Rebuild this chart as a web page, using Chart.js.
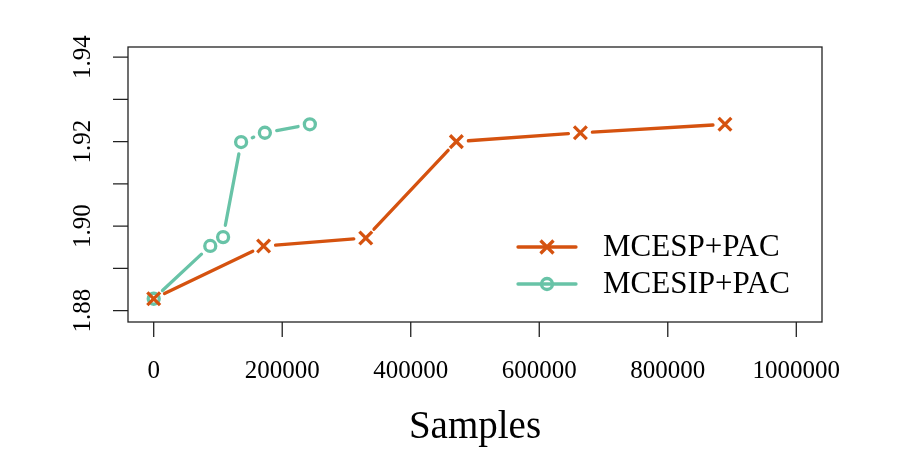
<!DOCTYPE html>
<html>
<head>
<meta charset="utf-8">
<script src="https://cdn.jsdelivr.net/npm/chart.js@4.4.0/dist/chart.umd.min.js"></script>
<style>
  html, body { margin: 0; padding: 0; background: #fff; }
  #wrap { width: 900px; height: 450px; }
</style>
</head>
<body>
<div id="wrap"><canvas id="grafico" width="900" height="450"></canvas></div>
<script>
// data
let seriesNames = ["MCESP+PAC", "MCESIP+PAC"];
let mcespX = [0, 171000, 330000, 471000, 664000, 889000];
let mcespY = [1.8828, 1.8953, 1.8972, 1.9200, 1.9221, 1.9241];
let mcesipX = [0, 88000, 108000, 136000, 173000, 243000];
let mcesipY = [1.8828, 1.8953, 1.8974, 1.9199, 1.9221, 1.9241];

let xTicks = [0, 200000, 400000, 600000, 800000, 1000000];
let yTicks = [1.88, 1.89, 1.90, 1.91, 1.92, 1.93, 1.94];
let yLabels = ["1.88", "1.90", "1.92", "1.94"];
let xTitle = "Samples";

let colOrange = "#d5520f";
let colTeal = "#68c3a7";
let serif = "'Liberation Serif', 'DejaVu Serif', serif";
let lw = 3.3;

function toPoints(xs, ys) {
    return xs.map((x, i) => ({ x: x, y: ys[i] }));
}

// R style "b": lines that stop short of each point
const gapLines = {
    id: "gapLines",
    beforeDatasetsDraw(chart) {
        let ctx = chart.ctx;
        let gap = 12;
        chart.data.datasets.forEach((ds, i) => {
            let pts = chart.getDatasetMeta(i).data;
            ctx.save();
            ctx.strokeStyle = ds.borderColor;
            ctx.lineWidth = lw;
            ctx.lineCap = "round";
            for (let k = 0; k < pts.length - 1; k++) {
                let a = pts[k], b = pts[k + 1];
                let dx = b.x - a.x, dy = b.y - a.y;
                let len = Math.sqrt(dx * dx + dy * dy);
                if (len <= 2 * gap) continue;
                let ux = dx / len, uy = dy / len;
                ctx.beginPath();
                ctx.moveTo(a.x + ux * gap, a.y + uy * gap);
                ctx.lineTo(b.x - ux * gap, b.y - uy * gap);
                ctx.stroke();
            }
            ctx.restore();
        });
    }
};

function drawMarker(ctx, style, color, x, y) {
    ctx.save();
    ctx.strokeStyle = color;
    ctx.lineWidth = lw;
    ctx.beginPath();
    if (style === "circle") {
        ctx.arc(x, y, 5.5, 0, Math.PI * 2);
    } else {
        let r = 6.5;
        ctx.moveTo(x - r, y - r); ctx.lineTo(x + r, y + r);
        ctx.moveTo(x - r, y + r); ctx.lineTo(x + r, y - r);
    }
    ctx.stroke();
    ctx.restore();
}

// R base graphics frame, axes and legend
const rAxes = {
    id: "rAxes",
    afterDraw(chart) {
        let ctx = chart.ctx;
        let a = chart.chartArea;
        let xs = chart.scales.x, ys = chart.scales.y;
        ctx.save();
        ctx.strokeStyle = "#222";
        ctx.lineWidth = 1.3;
        ctx.strokeRect(a.left, a.top, a.right - a.left, a.bottom - a.top);

        // y axis
        ctx.beginPath();
        yTicks.forEach(v => {
            let py = ys.getPixelForValue(v);
            ctx.moveTo(a.left - 15, py);
            ctx.lineTo(a.left, py);
        });
        ctx.stroke();
        ctx.fillStyle = "#000";
        ctx.font = "25px " + serif;
        ctx.textAlign = "center";
        ctx.textBaseline = "middle";
        yLabels.forEach(t => {
            let py = ys.getPixelForValue(parseFloat(t));
            ctx.save();
            ctx.translate(a.left - 45, py);
            ctx.rotate(-Math.PI / 2);
            ctx.fillText(t, 0, 0);
            ctx.restore();
        });

        // x axis
        ctx.beginPath();
        xTicks.forEach(v => {
            let px = xs.getPixelForValue(v);
            ctx.moveTo(px, a.bottom);
            ctx.lineTo(px, a.bottom + 15);
        });
        ctx.stroke();
        xTicks.forEach(v => {
            ctx.fillText(String(v), xs.getPixelForValue(v), a.bottom + 49);
        });
        ctx.font = "39px " + serif;
        ctx.fillText(xTitle, (xs.getPixelForValue(0) + xs.getPixelForValue(1000000)) / 2, 428);

        // legend
        ctx.font = "31px " + serif;
        ctx.textAlign = "left";
        chart.data.datasets.forEach((ds, i) => {
            let ly = 247 + i * 37;
            ctx.save();
            ctx.strokeStyle = ds.borderColor;
            ctx.lineWidth = lw;
            ctx.lineCap = "round";
            ctx.beginPath();
            ctx.moveTo(518, ly);
            ctx.lineTo(576, ly);
            ctx.stroke();
            ctx.restore();
            drawMarker(ctx, ds.pointStyle, ds.borderColor, 547, ly);
            ctx.fillStyle = "#000";
            ctx.fillText(ds.label, 603, ly + 1);
        });
        ctx.restore();
    }
};

const ctx = document.getElementById("grafico").getContext("2d");
window.myChart = new Chart(ctx, {
    type: "scatter",
    data: {
        datasets: [{
            label: seriesNames[0],
            data: toPoints(mcespX, mcespY),
            borderColor: colOrange,
            backgroundColor: "rgba(0,0,0,0)",
            pointStyle: "crossRot",
            pointRadius: 9,
            pointBorderWidth: lw,
            showLine: false
        }, {
            label: seriesNames[1],
            data: toPoints(mcesipX, mcesipY),
            borderColor: colTeal,
            backgroundColor: "rgba(0,0,0,0)",
            pointStyle: "circle",
            pointRadius: 5.5,
            pointBorderWidth: lw,
            showLine: false
        }]
    },
    options: {
        responsive: false,
        animation: false,
        layout: { padding: { left: 128, right: 78, top: 47, bottom: 128 } },
        plugins: { legend: { display: false }, tooltip: { enabled: false } },
        scales: {
            x: { type: "linear", min: -40000, max: 1040000, display: false },
            y: { type: "linear", min: 1.8773, max: 1.9424, display: false }
        }
    },
    plugins: [gapLines, rAxes]
});
</script>
</body>
</html>
